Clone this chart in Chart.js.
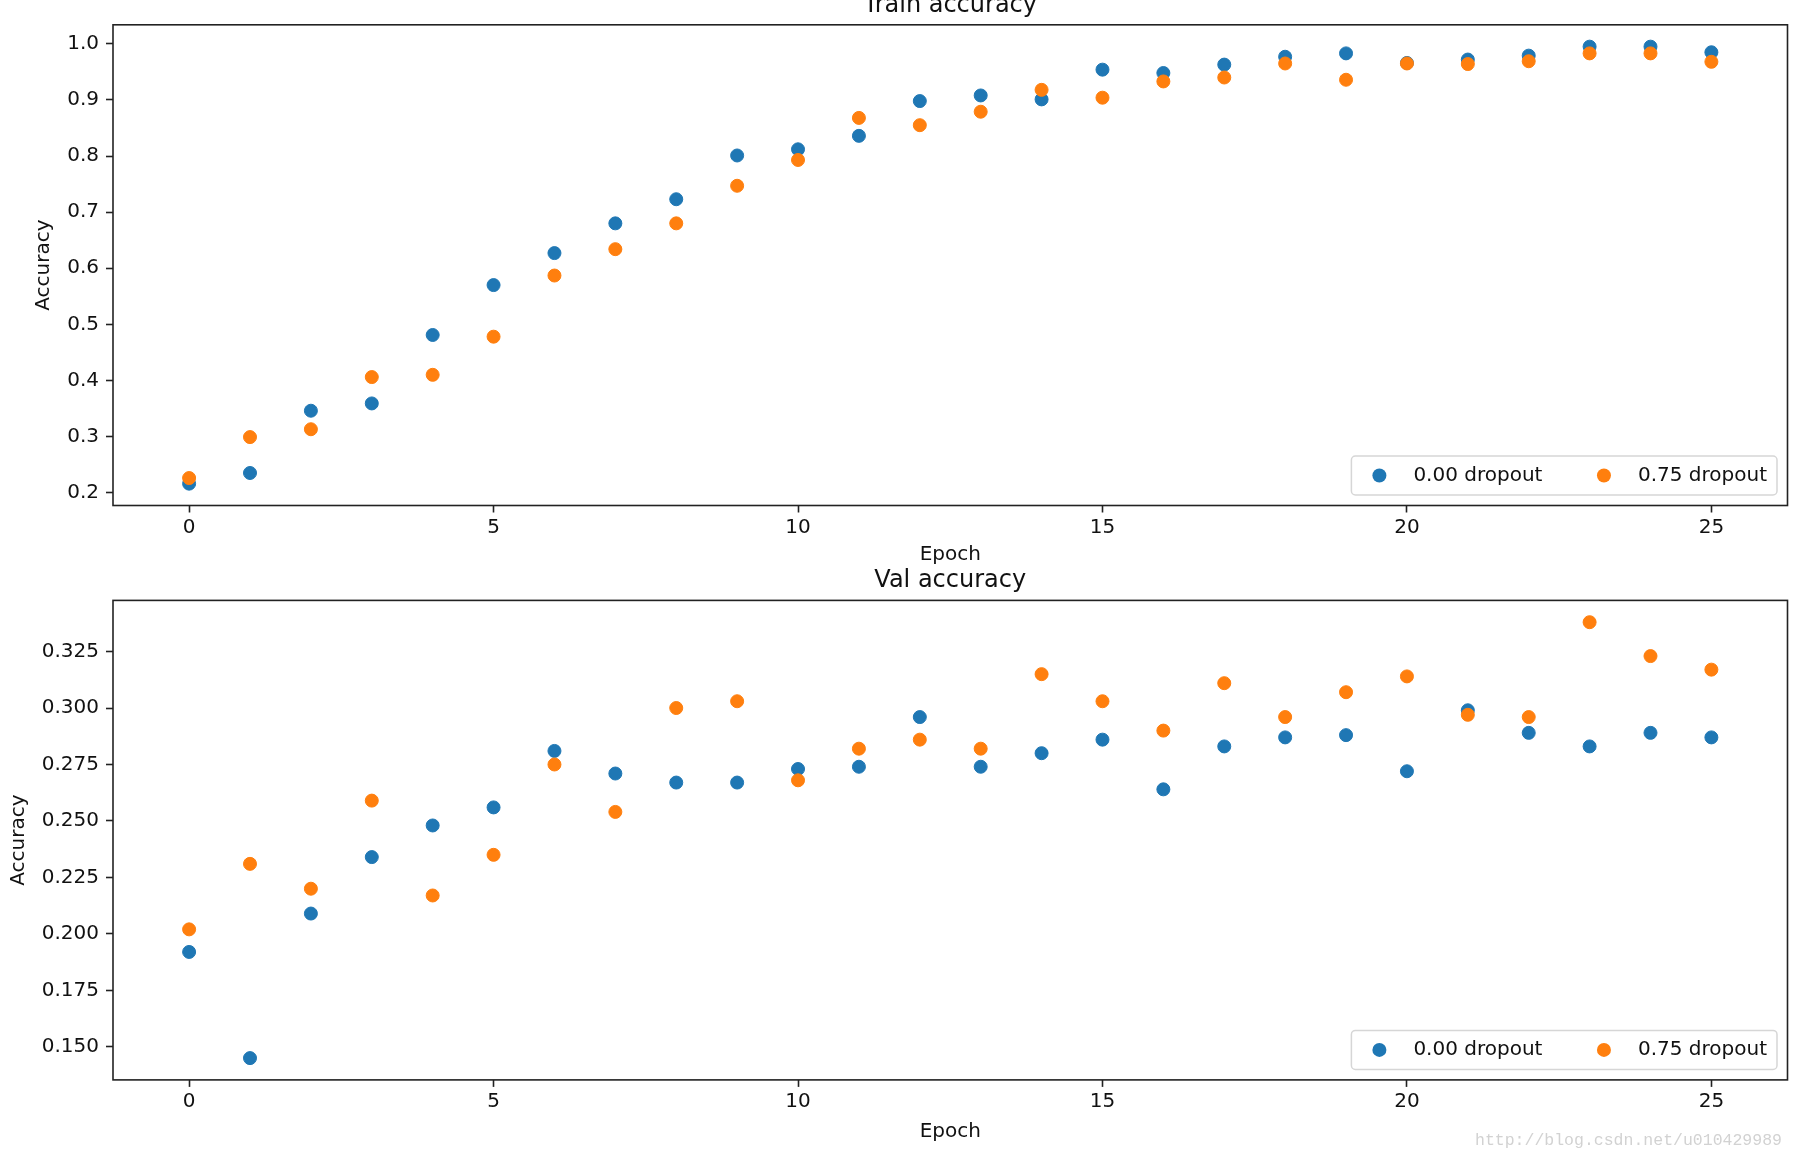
<!DOCTYPE html>
<html>
<head>
<meta charset="utf-8">
<script src="https://cdn.jsdelivr.net/npm/chart.js@4.4.0/dist/chart.umd.min.js"></script>
<style>
  body { margin: 0; background: #fff; width: 1796px; height: 1162px; overflow: hidden; position: relative; }
  .box { position: absolute; left: 0; width: 1796px; }
  #trainBox { top: -20px; height: 590px; }
  #valBox { top: 550px; height: 612px; }
  #mark { position: absolute; left: 1475px; top: 1131px; font: 16.5px "Liberation Mono", monospace; color: #d2d2d2; white-space: nowrap; }
</style>
</head>
<body>
<div class="box" id="trainBox"><canvas id="trainChart"></canvas></div>
<div class="box" id="valBox"><canvas id="valChart"></canvas></div>
<div id="mark">http://blog.csdn.net/u010429989</div>
<script>
const epochs = [0, 1, 2, 3, 4, 5, 6, 7, 8, 9, 10, 11, 12, 13, 14, 15, 16, 17, 18, 19, 20, 21, 22, 23, 24, 25];
const seriesNames = ["0.00 dropout", "0.75 dropout"];

const trainNoDrop = [0.216, 0.235, 0.346, 0.359, 0.481, 0.570, 0.627, 0.680, 0.723, 0.801, 0.812, 0.836, 0.898,
  0.908, 0.901, 0.954, 0.948, 0.963, 0.977, 0.983, 0.966, 0.972, 0.979, 0.995, 0.995, 0.985];
const trainDrop = [0.226, 0.299, 0.313, 0.406, 0.410, 0.478, 0.587, 0.634, 0.680, 0.747, 0.793, 0.868, 0.855,
  0.879, 0.918, 0.904, 0.933, 0.940, 0.965, 0.936, 0.965, 0.964, 0.969, 0.983, 0.983, 0.968];

const valNoDrop = [0.192, 0.145, 0.209, 0.234, 0.248, 0.256, 0.281, 0.271, 0.267, 0.267, 0.273, 0.274, 0.296,
  0.274, 0.280, 0.286, 0.264, 0.283, 0.287, 0.288, 0.272, 0.299, 0.289, 0.283, 0.289, 0.287];
const valDrop = [0.202, 0.231, 0.220, 0.259, 0.217, 0.235, 0.275, 0.254, 0.300, 0.303, 0.268, 0.282, 0.286,
  0.282, 0.315, 0.303, 0.290, 0.311, 0.296, 0.307, 0.314, 0.297, 0.296, 0.338, 0.323, 0.317];

const epochTicks = [0, 5, 10, 15, 20, 25];
const trainTicks = [0.2, 0.3, 0.4, 0.5, 0.6, 0.7, 0.8, 0.9, 1.0];
const valTicks = [0.150, 0.175, 0.200, 0.225, 0.250, 0.275, 0.300, 0.325];

const FONT = "'DejaVu Sans', sans-serif";
const INK = "#111";
const BLUE = "#1f77b4";
const ORANGE = "#ff7f0e";

// marges automatiques comme matplotlib (5 %)
function range(arrs) {
  const all = [].concat(...arrs);
  const lo = Math.min(...all), hi = Math.max(...all);
  const pad = (hi - lo) * 0.05;
  return [lo - pad, hi + pad];
}

// cadre autour de la zone de tracé
const framePlugin = {
  id: "frame",
  afterDatasetsDraw(chart) {
    const a = chart.chartArea, ctx = chart.ctx;
    ctx.save();
    ctx.strokeStyle = "#222";
    ctx.lineWidth = 1.6;
    ctx.strokeRect(a.left, a.top, a.right - a.left, a.bottom - a.top);
    ctx.restore();
  }
};

// légende horizontale en bas à droite
const legendPlugin = {
  id: "mplLegend",
  afterDraw(chart) {
    const a = chart.chartArea, ctx = chart.ctx;
    const sets = chart.data.datasets;
    ctx.save();
    ctx.font = "20px " + FONT;
    const widths = sets.map(d => ctx.measureText(d.label).width);
    const padL = 28, toText = 34, gap = 61.5, padR = 10;
    const w = padL + toText + widths[0] + gap + toText + widths[1] + padR;
    const h = 39;
    const right = a.right - 10.5, bottom = a.bottom - 10.5;
    const left = right - w, top = bottom - h;
    ctx.beginPath();
    ctx.roundRect(left, top, w, h, 4);
    ctx.fillStyle = "rgba(255,255,255,0.85)";
    ctx.fill();
    ctx.strokeStyle = "#d6d6d6";
    ctx.lineWidth = 1.5;
    ctx.stroke();
    const cy = top + h / 2;
    let x = left + padL;
    sets.forEach((d, i) => {
      ctx.beginPath();
      ctx.arc(x, cy, 7, 0, Math.PI * 2);
      ctx.fillStyle = d.backgroundColor;
      ctx.fill();
      ctx.fillStyle = INK;
      ctx.textBaseline = "middle";
      ctx.textAlign = "left";
      ctx.fillText(d.label, x + toText, cy);
      x += toText + widths[i] + gap;
    });
    ctx.restore();
  }
};

function makeChart(id, opts) {
  const [ymin, ymax] = range([opts.a, opts.b]);
  const [xmin, xmax] = range([epochs]);
  return new Chart(document.getElementById(id), {
    type: "scatter",
    data: {
      datasets: [
        {
          label: seriesNames[0],
          data: epochs.map((e, i) => ({ x: e, y: opts.a[i] })),
          backgroundColor: BLUE, borderColor: BLUE, order: 1
        },
        {
          label: seriesNames[1],
          data: epochs.map((e, i) => ({ x: e, y: opts.b[i] })),
          backgroundColor: ORANGE, borderColor: ORANGE, order: 0
        }
      ]
    },
    options: {
      responsive: true,
      maintainAspectRatio: false,
      animation: false,
      events: [],
      elements: { point: { radius: 6.5, borderWidth: 1 } },
      layout: { padding: { left: 0, right: 8.5, top: 0, bottom: 0 } },
      plugins: {
        legend: { display: false },
        tooltip: { enabled: false },
        title: {
          display: true,
          fullSize: false,
          text: opts.title,
          color: INK,
          font: { family: FONT, size: 24, weight: "normal" },
          padding: { top: opts.titleTop, bottom: opts.titleBottom }
        }
      },
      scales: {
        x: {
          type: "linear",
          min: xmin, max: xmax,
          afterBuildTicks: s => { s.ticks = epochTicks.map(v => ({ value: v })); },
          afterFit: s => { s.height = opts.xHeight; },
          grid: { display: true, drawOnChartArea: false, drawTicks: true, tickLength: 7, tickWidth: 1.6, tickColor: "#222" },
          border: { display: false },
          ticks: { color: INK, font: { family: FONT, size: 20 }, padding: 3, maxRotation: 0, autoSkip: false },
          title: { display: true, text: "Epoch", color: INK, font: { family: FONT, size: 20 }, padding: { top: 0, bottom: opts.xTitlePad } }
        },
        y: {
          type: "linear",
          min: ymin, max: ymax,
          afterBuildTicks: s => { s.ticks = opts.ticks.map(v => ({ value: v })); },
          afterFit: s => { s.width = 113; },
          grid: { display: true, drawOnChartArea: false, drawTicks: true, tickLength: 7, tickWidth: 1.6, tickColor: "#222" },
          border: { display: false },
          ticks: { color: INK, font: { family: FONT, size: 20 }, padding: 7, autoSkip: false, callback: v => v.toFixed(opts.digits) },
          title: { display: true, text: "Accuracy", color: INK, font: { family: FONT, size: 20 }, padding: { top: opts.yTitlePad, bottom: 0 } }
        }
      }
    },
    plugins: [framePlugin, legendPlugin]
  });
}

makeChart("trainChart", {
  a: trainNoDrop, b: trainDrop, ticks: trainTicks, digits: 1,
  title: "Train accuracy", titleTop: 11, titleBottom: 5,
  xHeight: 64.5, xTitlePad: 3, yTitlePad: 31.5
});

makeChart("valChart", {
  a: valNoDrop, b: valDrop, ticks: valTicks, digits: 3,
  title: "Val accuracy", titleTop: 16.5, titleBottom: 5.1,
  xHeight: 82.1, xTitlePad: 18, yTitlePad: 6.3
});
</script>
</body>
</html>
